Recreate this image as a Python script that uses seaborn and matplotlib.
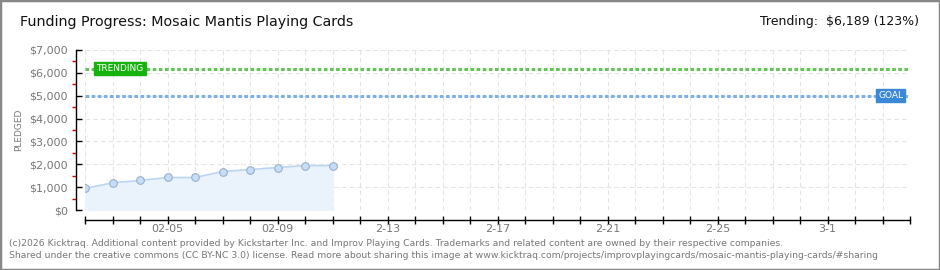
import matplotlib
matplotlib.use("Agg")
import matplotlib.pyplot as plt
from matplotlib.patches import Rectangle
from matplotlib.ticker import MultipleLocator, FuncFormatter
import seaborn as sns
import pandas as pd

# ---- data ----
dates = ["2026-02-02", "2026-02-03", "2026-02-04", "2026-02-05", "2026-02-06",
         "2026-02-07", "2026-02-08", "2026-02-09", "2026-02-10", "2026-02-11"]
pledged = [943, 1190, 1292, 1422, 1422, 1684, 1771, 1858, 1945, 1945]
goal = 5000
trending = 6189
start_date = "2026-02-02"
end_date = "2026-03-04"
tick_labels = {"2026-02-05": "02-05", "2026-02-09": "02-09", "2026-02-13": "2-13",
               "2026-02-17": "2-17", "2026-02-21": "2-21", "2026-02-25": "2-25",
               "2026-03-01": "3-1"}
title = "Funding Progress: Mosaic Mantis Playing Cards"
trend_text = "Trending:  $6,189 (123%)"
footer = ["(c)2026 Kicktraq. Additional content provided by Kickstarter Inc. and Improv Playing Cards. Trademarks and related content are owned by their respective companies.",
          "Shared under the creative commons (CC BY-NC 3.0) license. Read more about sharing this image at www.kicktraq.com/projects/improvplayingcards/mosaic-mantis-playing-cards/#sharing"]

sns.set_theme(style="white")
plt.rcParams['font.family'] = ['DejaVu Sans']

t0 = pd.Timestamp(start_date)
df = pd.DataFrame({"day": [(pd.Timestamp(d) - t0).days for d in dates], "pledged": pledged})
ndays = (pd.Timestamp(end_date) - t0).days

fig = plt.figure(figsize=(9.4, 2.7), dpi=100)
fig.patch.set_facecolor("white")
ax = fig.add_axes([85/940, 1-210/270, 825/940, 160/270])

ax.fill_between(df["day"], 0, df["pledged"], color="#eaf2fc", zorder=1)
sns.lineplot(data=df, x="day", y="pledged", ax=ax, color="#bcd6f2", linewidth=1.2,
             marker="o", markersize=5.5, markerfacecolor="#c6ddf7",
             markeredgecolor="#9ab0c8", markeredgewidth=0.8, zorder=3)

ax.axhline(trending, color="#66c35a", linestyle=(0, (1.2, 0.8)), linewidth=2.2, zorder=2)
ax.axhline(goal, color="#7eb0e8", linestyle=(0, (1.2, 0.8)), linewidth=2.2, zorder=2)

ax.text(0.4, trending, "TRENDING", color="white", fontsize=6.5, va="center", ha="left",
        bbox=dict(boxstyle="square,pad=0.25", fc="#16b20e", ec="#16b20e"), zorder=5)
ax.text(ndays - 0.25, goal, "GOAL", color="white", fontsize=6.5, va="center", ha="right",
        bbox=dict(boxstyle="square,pad=0.25", fc="#3b88d6", ec="#3b88d6"), zorder=5)

ax.set_xlim(0, ndays)
ax.set_ylim(0, 7000)
ax.set_xticks(range(0, ndays + 1))
lab_map = {(pd.Timestamp(k) - t0).days: v for k, v in tick_labels.items()}
ax.set_xticklabels([lab_map.get(i, "") for i in range(0, ndays + 1)])
ax.yaxis.set_major_locator(MultipleLocator(1000))
ax.yaxis.set_minor_locator(MultipleLocator(500))
ax.yaxis.set_major_formatter(FuncFormatter(lambda v, p: f"${int(v):,}"))

ax.grid(True, which="major", color="#e4e4e4", linestyle=(0, (4, 3)), linewidth=0.8)
ax.set_axisbelow(True)

sns.despine(ax=ax, offset={"left": 6.5, "bottom": 7})
ax.spines["left"].set_color("black")
ax.spines["bottom"].set_color("black")
ax.spines["left"].set_linewidth(1)
ax.spines["bottom"].set_linewidth(1)

ax.tick_params(axis="x", which="major", direction="inout", length=6, width=1,
               color="black", labelsize=8, labelcolor="#777777", pad=0, bottom=True)
ax.tick_params(axis="y", which="major", direction="in", length=4, width=1,
               color="black", labelsize=8, labelcolor="#777777", pad=6, left=True)
ax.tick_params(axis="y", which="minor", direction="out", length=3, width=1,
               color="#dd0000", left=True)

ax.set_xlabel("")
ax.set_ylabel("PLEDGED", fontsize=6.5, color="#777777", labelpad=4)

fig.text(20/940, 1-22/270, title, fontsize=10.3, color="#111111", va="center", ha="left")
fig.text(919/940, 1-22/270, trend_text, fontsize=9, color="#111111", va="center", ha="right")
fig.text(9/940, 1-243/270, footer[0], fontsize=6.7, color="#777777", va="center", ha="left")
fig.text(9/940, 1-255/270, footer[1], fontsize=6.7, color="#777777", va="center", ha="left")

fig.patches.append(Rectangle((0, 0), 1, 1, transform=fig.transFigure, fill=False,
                             ec="#888888", lw=2.5, zorder=10))

fig.savefig("out.png", dpi=100, facecolor="white")
